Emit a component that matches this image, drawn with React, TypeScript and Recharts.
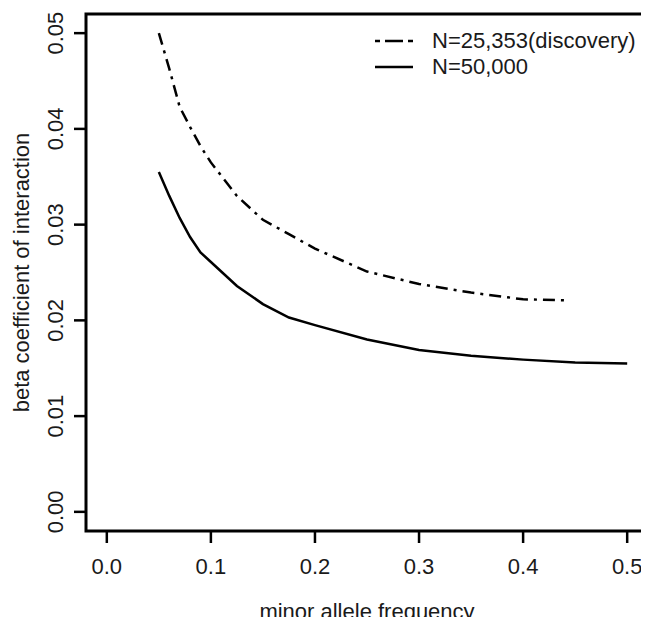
import React from 'react';
import { LineChart, Line, XAxis, YAxis, ReferenceArea, Label } from 'recharts';

// minor allele frequency / beta coefficient
const MAF_DISCOVERY = [0.05, 0.06, 0.07, 0.08, 0.09, 0.1, 0.125, 0.15, 0.175, 0.2, 0.25, 0.3, 0.35, 0.4, 0.44];
const BETA_DISCOVERY = [0.05, 0.0463, 0.0423, 0.0402, 0.0382, 0.0365, 0.033, 0.0305, 0.029, 0.0275, 0.0251, 0.0238, 0.0229, 0.0222, 0.0221];

const MAF_50K = [0.05, 0.06, 0.07, 0.08, 0.09, 0.1, 0.125, 0.15, 0.175, 0.2, 0.25, 0.3, 0.35, 0.4, 0.45, 0.5];
const BETA_50K = [0.0355, 0.033, 0.0307, 0.0287, 0.0271, 0.0261, 0.0236, 0.0217, 0.0203, 0.0195, 0.018, 0.0169, 0.0163, 0.0159, 0.0156, 0.0155];

const X_TICKS = [0, 0.1, 0.2, 0.3, 0.4, 0.5];
const Y_TICKS = [0, 0.01, 0.02, 0.03, 0.04, 0.05];
const X_DOMAIN = [-0.02, 0.52];
const Y_DOMAIN = [-0.002, 0.052];

const SERIES_LABELS = ['N=25,353(discovery)', 'N=50,000'];

const discovery = MAF_DISCOVERY.map((x, i) => ({ x, y: BETA_DISCOVERY[i] }));
const n50k = MAF_50K.map((x, i) => ({ x, y: BETA_50K[i] }));

const FONT = '"Liberation Sans", Arial, Helvetica, sans-serif';
const INK = '#1a1a1a';
const DASH = '12 6 3 6';

function YTick(props: any) {
  const { y, payload } = props;
  const bx = 63;
  return (
    <text
      x={bx}
      y={y}
      transform={`rotate(-90, ${bx}, ${y})`}
      textAnchor="middle"
      fontSize={22}
      fontFamily={FONT}
      fill={INK}
    >
      {payload.value.toFixed(2)}
    </text>
  );
}

function LegendBox() {
  return (
    <div
      style={{
        position: 'absolute',
        top: 28,
        left: 374,
        fontFamily: FONT,
        fontSize: 22,
        color: INK,
        lineHeight: '26px',
      }}
    >
      {SERIES_LABELS.map((label, i) => (
        <div key={label} style={{ display: 'flex', alignItems: 'center', height: 26 }}>
          <svg width={40} height={10} style={{ marginRight: 18 }}>
            <line
              x1={1}
              y1={5}
              x2={39}
              y2={5}
              stroke="#000"
              strokeWidth={2.5}
              strokeDasharray={i === 0 ? '5 5 18 5 5' : undefined}
            />
          </svg>
          <span>{label}</span>
        </div>
      ))}
    </div>
  );
}

export default function App() {
  return (
    <div style={{ position: 'relative', width: 649, height: 625, margin: -8, background: '#fff' }}>
      <LineChart width={649} height={625} margin={{ top: 14, right: 1, bottom: 0, left: 0 }}>
        <XAxis
          dataKey="x"
          type="number"
          domain={X_DOMAIN}
          ticks={X_TICKS}
          allowDataOverflow
          axisLine={false}
          tickSize={12}
          tickMargin={15}
          tickLine={{ stroke: '#000', strokeWidth: 2.5 }}
          tick={{ fontSize: 22, fontFamily: FONT, fill: INK }}
          tickFormatter={(v: number) => v.toFixed(1)}
          height={94}
        >
          <Label
            value="minor allele frequency"
            position="insideBottom"
            offset={6}
            style={{ fontSize: 22, fontFamily: FONT, fill: INK }}
          />
        </XAxis>
        <YAxis
          type="number"
          domain={Y_DOMAIN}
          ticks={Y_TICKS}
          allowDataOverflow
          axisLine={false}
          tickSize={12}
          tickLine={{ stroke: '#000', strokeWidth: 2.5 }}
          tick={<YTick />}
          width={86}
        >
          <Label
            value="beta coefficient of interaction"
            angle={-90}
            position="insideLeft"
            offset={21}
            style={{ fontSize: 22, fontFamily: FONT, fill: INK, textAnchor: 'middle' }}
          />
        </YAxis>
        <ReferenceArea
          x1={X_DOMAIN[0]}
          x2={X_DOMAIN[1]}
          y1={Y_DOMAIN[0]}
          y2={Y_DOMAIN[1]}
          fill="none"
          stroke="#000"
          strokeWidth={3}
        />
        <Line
          data={discovery}
          dataKey="y"
          type="linear"
          stroke="#000"
          strokeWidth={2.5}
          strokeDasharray={DASH}
          dot={false}
          activeDot={false}
          isAnimationActive={false}
        />
        <Line
          data={n50k}
          dataKey="y"
          type="linear"
          stroke="#000"
          strokeWidth={2.5}
          dot={false}
          activeDot={false}
          isAnimationActive={false}
        />
      </LineChart>
      <LegendBox />
    </div>
  );
}
